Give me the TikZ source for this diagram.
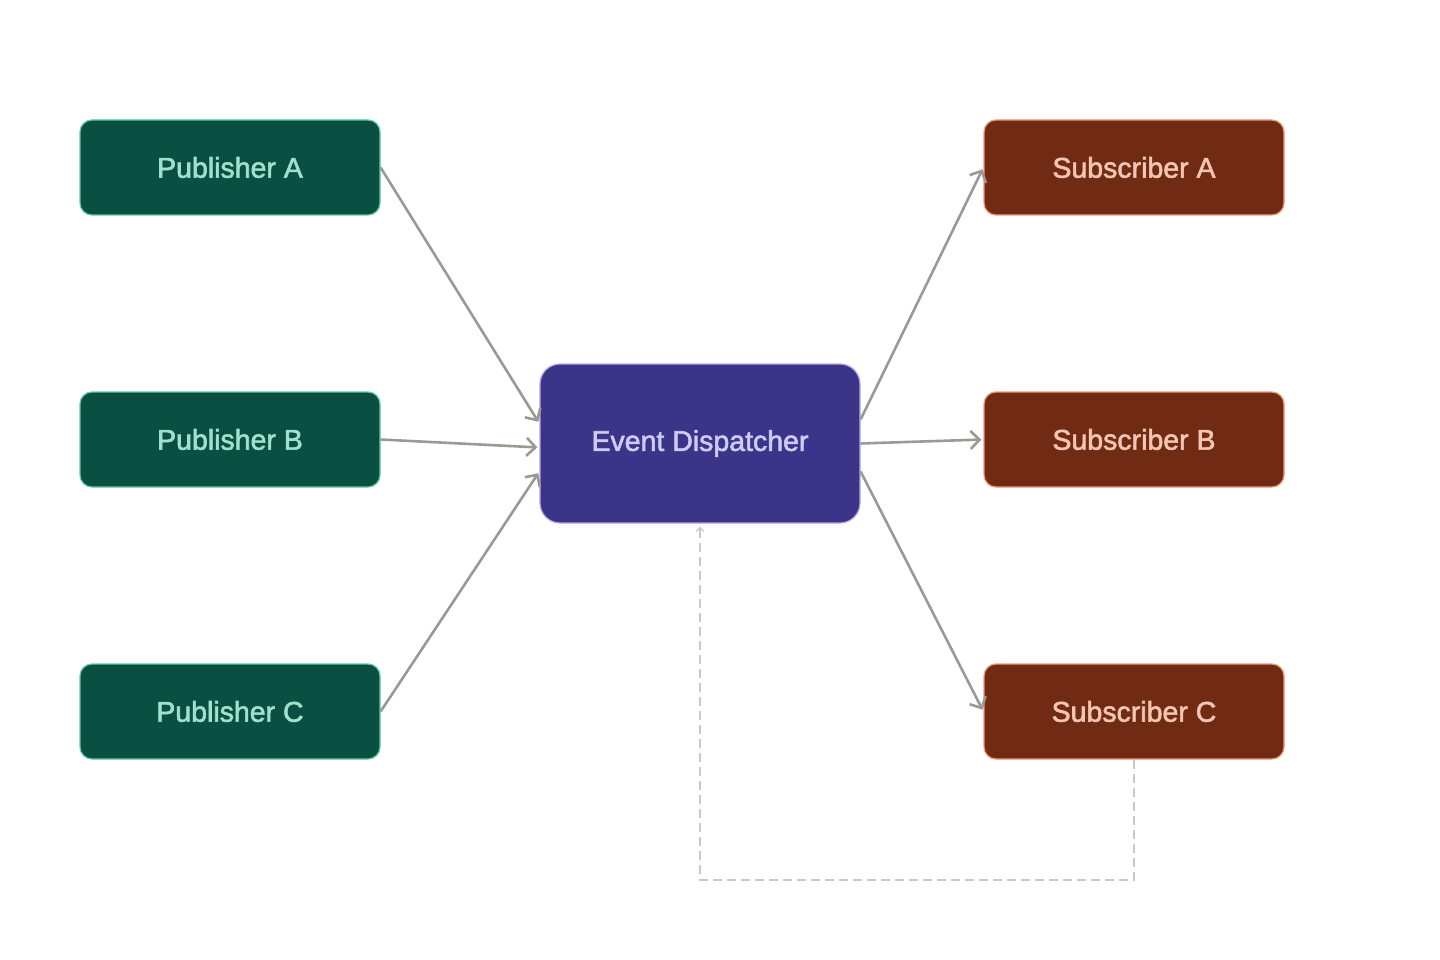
\documentclass[tikz,border=0pt]{standalone}
\usepackage{fontspec}
\setmainfont{Liberation Sans}
\newfontfamily\labelfont[FakeBold=2]{Liberation Sans}
\usetikzlibrary{arrows.meta,calc}
\definecolor{pubfill}{HTML}{0B4F42}
\definecolor{pubdraw}{HTML}{5DCAA5}
\definecolor{pubtext}{HTML}{9FE1CB}
\definecolor{dspfill}{HTML}{3C3489}
\definecolor{dspdraw}{HTML}{AFA9EC}
\definecolor{dsptext}{HTML}{CECBF6}
\definecolor{subfill}{HTML}{712B13}
\definecolor{subdraw}{HTML}{F0997B}
\definecolor{subtext}{HTML}{F5C4B3}
\definecolor{arrowc}{HTML}{9A9A92}
\definecolor{dashc}{HTML}{CACAC4}
\tikzset{
  box/.style={rectangle, rounded corners=12pt, minimum width=300pt, minimum height=95pt, line width=1.2pt, inner sep=0pt, font=\labelfont\fontsize{28.5}{32}\selectfont},
  pubbox/.style={box, fill=pubfill, draw=pubdraw, text=pubtext},
  subbox/.style={box, fill=subfill, draw=subdraw, text=subtext},
  dspbox/.style={rectangle, rounded corners=20pt, minimum width=320pt, minimum height=159pt, line width=1.2pt, inner sep=0pt, fill=dspfill, draw=dspdraw, text=dsptext, font=\labelfont\fontsize{28.5}{32}\selectfont},
  flow/.style={draw=arrowc, line width=2.6pt, -{Straight Barb[length=9pt, width=18pt, line width=2.6pt]}, shorten >=2pt},
  feedback/.style={draw=dashc, line width=1.6pt, dash pattern=on 9pt off 5pt, -{Straight Barb[length=4pt, width=8pt, line width=1.2pt]}}
}
\begin{document}
\begin{tikzpicture}[x=1pt, y=-1pt]
\useasboundingbox (0,0) rectangle (1440,960);
\node[pubbox] (pa) at (230,167.5) {Publisher A};
\node[pubbox] (pb) at (230,439.5) {Publisher B};
\node[pubbox] (pc) at (230,711.5) {Publisher C};
\node[dspbox] (ed) at (700,443.5) {Event Dispatcher};
\node[subbox] (sa) at (1134,167.5) {Subscriber A};
\node[subbox] (sb) at (1134,439.5) {Subscriber B};
\node[subbox] (sc) at (1134,711.5) {Subscriber C};
\coordinate (corner1) at (1134,880);
\coordinate (corner2) at (700,880);
\draw[flow] (pa.east) -- ([yshift=20pt]ed.west);
\draw[flow] (pb.east) -- ([yshift=-4pt]ed.west);
\draw[flow] (pc.east) -- ([yshift=-28pt]ed.west);
\draw[flow] ([yshift=24pt]ed.east) -- (sa.west);
\draw[flow] ([yshift=0pt]ed.east) -- (sb.west);
\draw[flow] ([yshift=-28pt]ed.east) -- (sc.west);
\draw[feedback] (sc.south) -- (corner1) -- (corner2) -- ([yshift=-3pt]ed.south);
\end{tikzpicture}
\end{document}
